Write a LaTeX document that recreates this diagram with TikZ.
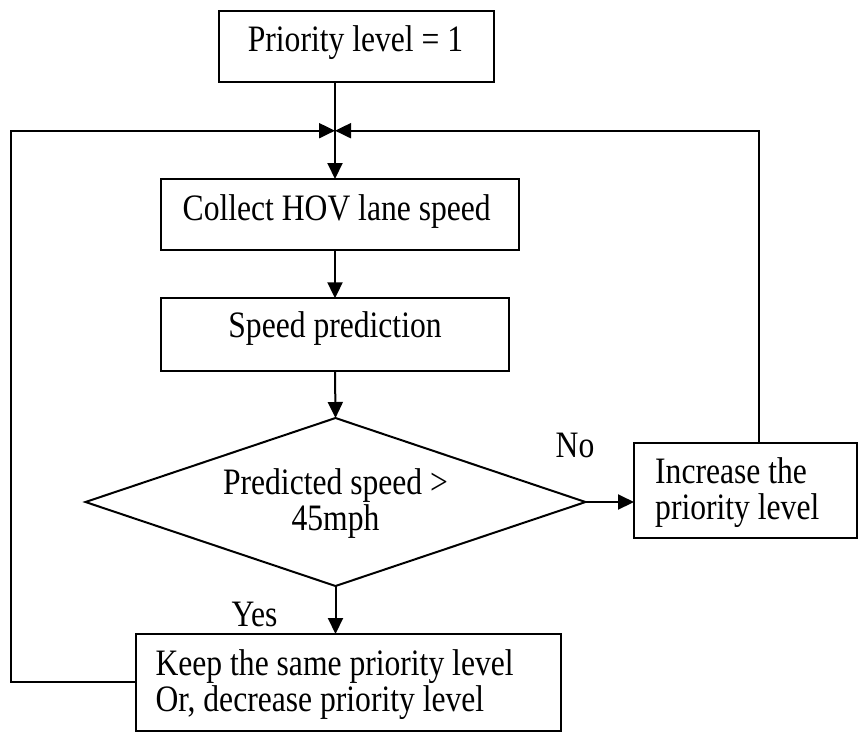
\documentclass[tikz,border=0pt]{standalone}
\usepackage{fontspec}
\usepackage{graphicx}
\setmainfont{Liberation Serif}
\usetikzlibrary{arrows.meta,shapes.geometric}
\newcommand\diagfont{\fontsize{31.6}{36.7}\selectfont}
\newcommand\vstretch[1]{\scalebox{1}[1.18]{#1}}
\begin{document}
\begin{tikzpicture}[x=1pt,y=-1pt,
  box/.style={draw,line width=2pt,inner sep=0pt,outer sep=0pt},
  lbl/.style={font=\diagfont,inner sep=0pt,anchor=base},
  conn/.style={line width=2pt},
  arr/.style={conn,-{Triangle[length=16pt,width=15pt]}}]
\useasboundingbox (0,0) rectangle (858,740);
% boxes
\node[box,minimum width=274.7pt,minimum height=71.6pt] (prio) at (356.7,46.5) {};
\node[box,minimum width=358.6pt,minimum height=71pt] (collect) at (340,214.5) {};
\node[box,minimum width=348.6pt,minimum height=72.4pt] (speed) at (335,334.5) {};
\node[box,diamond,minimum width=500pt,minimum height=168pt] (dec) at (335.5,502) {};
\node[box,minimum width=222.5pt,minimum height=95.6pt] (inc) at (745.25,490.5) {};
\node[box,minimum width=425pt,minimum height=96.5pt] (keep) at (348,682.25) {};
% texts
\node[lbl] (tprio) at (355.5,51.7) {\vstretch{Priority level = 1}};
\node[lbl] (tcollect) at (336.7,220) {\vstretch{Collect HOV lane speed}};
\node[lbl] (tspeed) at (335,337) {\vstretch{Speed prediction}};
\node[lbl] (tdec) at (335.5,494) {\begin{tabular}[t]{@{}c@{}}\vstretch{Predicted speed >}\\\vstretch{45mph}\end{tabular}};
\node[lbl,anchor=base west] (tinc) at (655,483) {\begin{tabular}[t]{@{}l@{}}\vstretch{Increase the}\\\vstretch{priority level}\end{tabular}};
\node[lbl,anchor=base west] (tkeep) at (155.4,675) {\begin{tabular}[t]{@{}l@{}}\vstretch{Keep the same priority level}\\\vstretch{Or, decrease priority level}\end{tabular}};
\node[lbl] (tno) at (575,457) {\vstretch{No}};
\node[lbl] (tyes) at (254.5,626) {\vstretch{Yes}};
% junction points
\coordinate (j) at (335,130.7);
\coordinate (L) at (11,130.7);
\coordinate (R) at (759,130.7);
% connectors
\draw[conn] (prio.south -| j) -- (j);
\draw[arr] (j) -- (collect.north -| j);
\draw[arr] (collect.south -| j) -- (speed.north -| j);
\draw[arr] (speed.south -| j) -- (dec.north);
\draw[arr] (dec.east) -- (dec.east -| inc.west);
\draw[arr] (dec.south) -- (keep.north -| dec.south);
\draw[arr] (inc.north -| R) -- (R) -- (j);
\draw[arr] (keep.west) -- (keep.west -| L) -- (L) -- (j);
\end{tikzpicture}
\end{document}
